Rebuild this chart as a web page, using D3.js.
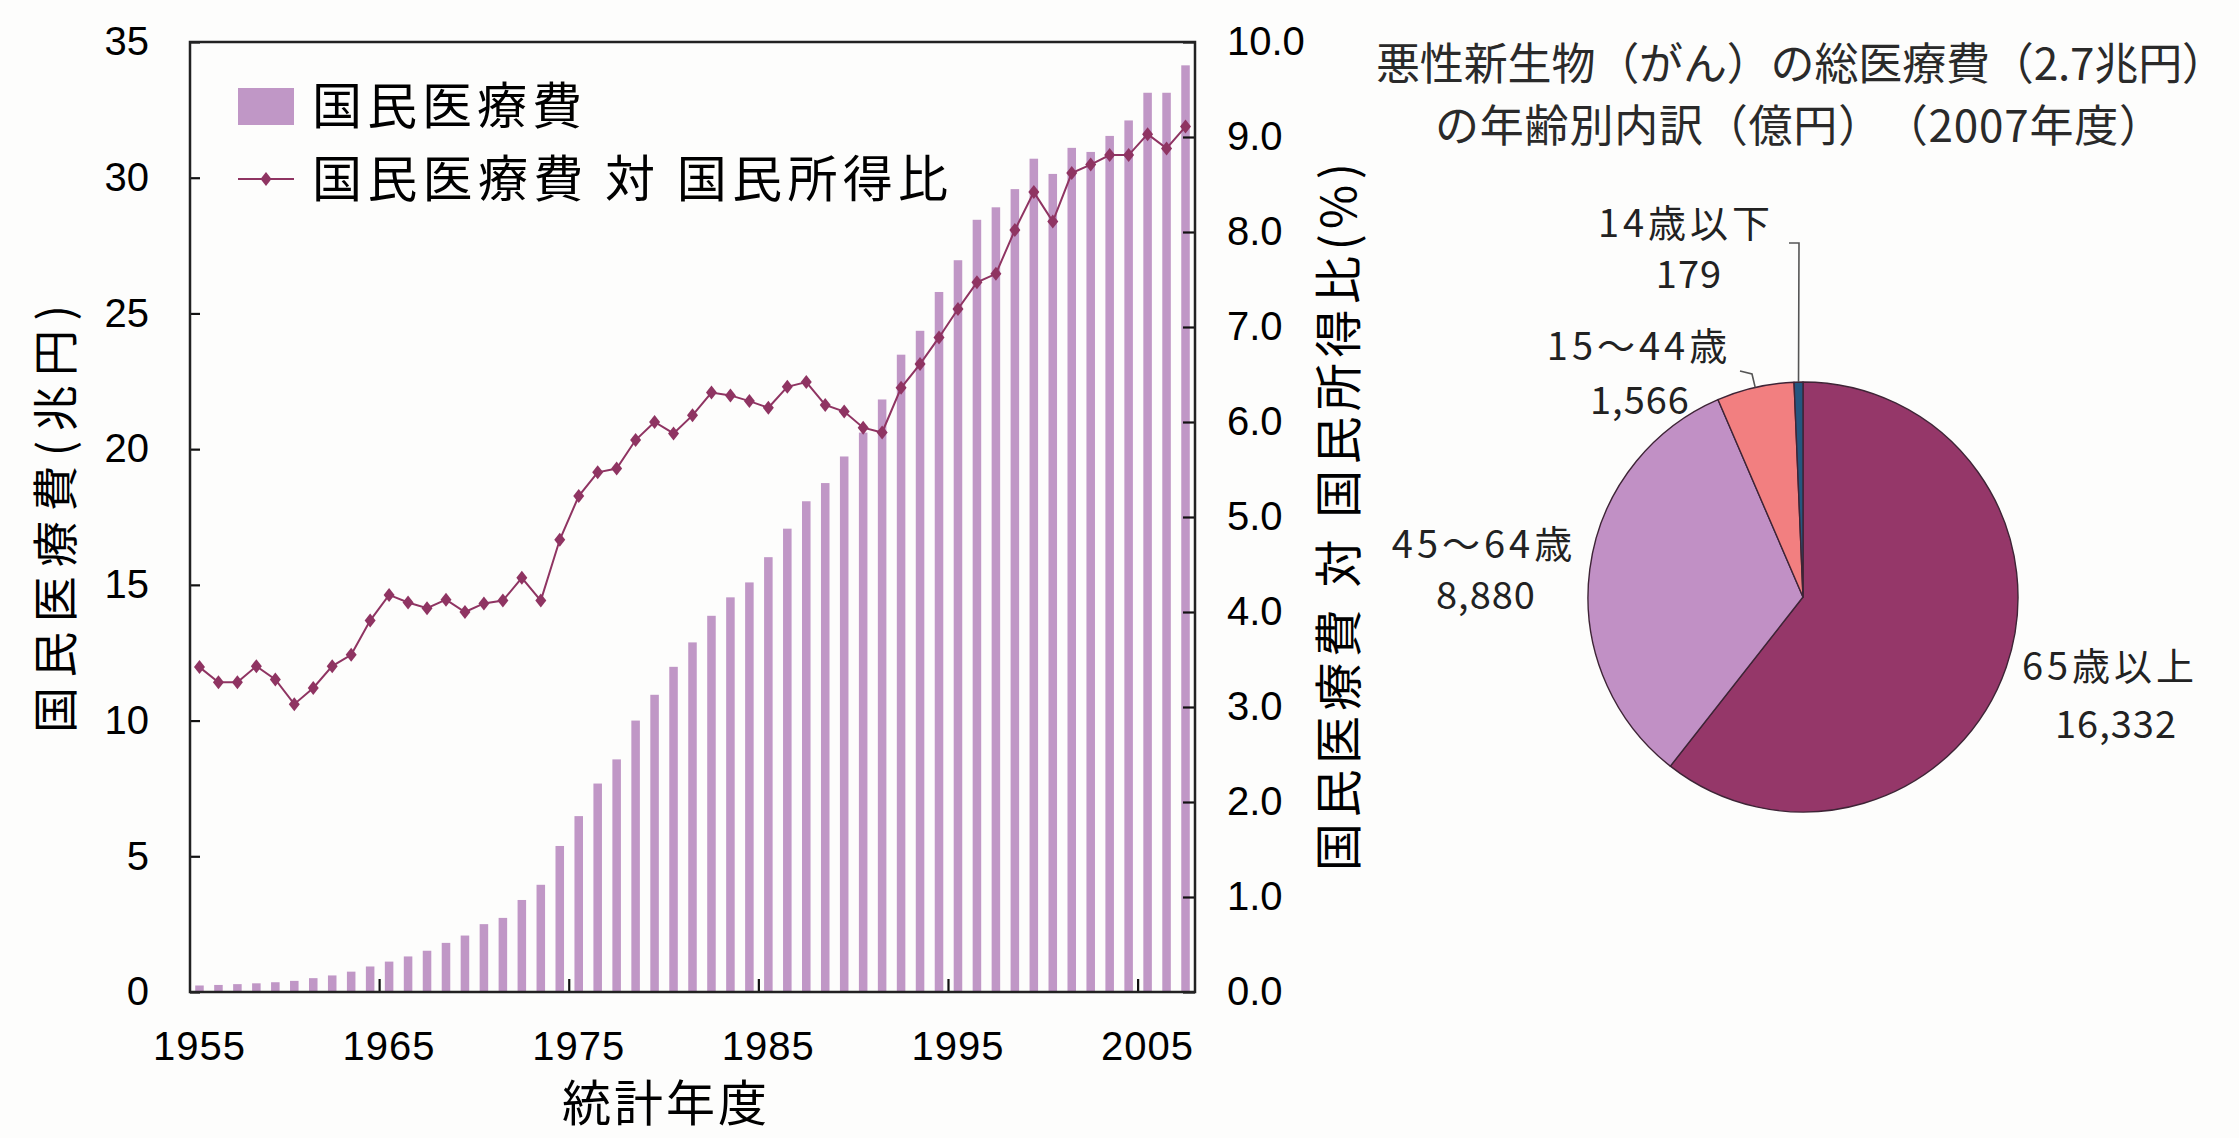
<!DOCTYPE html>
<html>
<head>
<meta charset="utf-8">
<script src="https://cdn.jsdelivr.net/npm/d3@7"></script>
<style>
  html, body { margin: 0; padding: 0; background: #fdfdfc; }
  svg { display: block; }
</style>
</head>
<body>
<svg id="chart" width="2239" height="1138"></svg>
<script>
// 統計年度
const years = [
  1955, 1956, 1957, 1958, 1959, 1960, 1961, 1962, 1963, 1964,
  1965, 1966, 1967, 1968, 1969, 1970, 1971, 1972, 1973, 1974,
  1975, 1976, 1977, 1978, 1979, 1980, 1981, 1982, 1983, 1984,
  1985, 1986, 1987, 1988, 1989, 1990, 1991, 1992, 1993, 1994,
  1995, 1996, 1997, 1998, 1999, 2000, 2001, 2002, 2003, 2004,
  2005, 2006, 2007
];
// 国民医療費 (兆円)
const expenditure = [
  0.24, 0.26, 0.29, 0.32, 0.36, 0.41, 0.51, 0.61, 0.75, 0.94,
  1.12, 1.31, 1.52, 1.81, 2.08, 2.50, 2.73, 3.39, 3.95, 5.38,
  6.48, 7.68, 8.57, 10.00, 10.95, 11.98, 12.88, 13.86, 14.54, 15.09,
  16.02, 17.07, 18.08, 18.75, 19.73, 20.61, 21.83, 23.48, 24.36, 25.79,
  26.96, 28.45, 28.91, 29.58, 30.70, 30.14, 31.10, 30.95, 31.54, 32.11,
  33.13, 33.13, 34.14
];
// 国民医療費 対 国民所得比 (%)
const incomeRatio = [
  3.42, 3.26, 3.26, 3.43, 3.29, 3.03, 3.20, 3.43, 3.55, 3.91,
  4.18, 4.10, 4.04, 4.13, 4.00, 4.09, 4.12, 4.36, 4.12, 4.76,
  5.22, 5.47, 5.51, 5.81, 6.00, 5.88, 6.07, 6.31, 6.28, 6.22,
  6.15, 6.37, 6.42, 6.18, 6.11, 5.94, 5.89, 6.36, 6.61, 6.89,
  7.19, 7.47, 7.56, 8.02, 8.42, 8.11, 8.62, 8.71, 8.81, 8.81,
  9.03, 8.88, 9.11
];
const leftTicks = [0, 5, 10, 15, 20, 25, 30, 35];
const rightTicks = [0, 1, 2, 3, 4, 5, 6, 7, 8, 9, 10];
const yearLabels = [1955, 1965, 1975, 1985, 1995, 2005];

// 悪性新生物(がん)の総医療費 年齢別内訳 (億円, 2007年度)
const ageGroups = ["65歳以上", "45～64歳", "15～44歳", "14歳以下"];
const cancerCost = [16332, 8880, 1566, 179];

// ---- layout & style ----
const JP = "'Noto Sans CJK JP', 'Noto Sans CJK SC', sans-serif";
const NUM = "'Liberation Sans', Arial, sans-serif";
const plot = { left: 190, right: 1195, top: 42, bottom: 992 };
const barColor = "#c097c6";
const lineColor = "#8f3462";
const sliceColors = ["#953769", "#c190c5", "#f27f80", "#245680"];
const pieCenter = [1803, 597];
const pieRadius = 215;
const labelPos = [
  { name: [2110, 667], value: [2116, 725] },
  { name: [1484, 545], value: [1486, 596] },
  { name: [1639, 347], value: [1640, 401] },
  { name: [1686, 224], value: [1689, 275] }
];
const leaders = { 2: [[1740, 371], [1752, 374]], 3: [[1789, 243], [1799, 243]] };

const svg = d3.select("#chart");
svg.append("rect").attr("width", 2239).attr("height", 1138).attr("fill", "#fdfdfc");

// ---- scales ----
const x = d3.scaleBand().domain(years)
  .range([plot.left, plot.right]).paddingInner(0.55).paddingOuter(0.275);
const y = d3.scaleLinear().domain([0, 35]).range([plot.bottom, plot.top]);
const y2 = d3.scaleLinear().domain([0, 10]).range([plot.bottom, plot.top]);

const series = years.map((yr, i) => ({ year: yr, cost: expenditure[i], ratio: incomeRatio[i] }));

// ---- bars ----
svg.append("g").selectAll("rect").data(series).join("rect")
  .attr("x", d => x(d.year))
  .attr("width", x.bandwidth())
  .attr("y", d => y(d.cost))
  .attr("height", d => y(0) - y(d.cost))
  .attr("fill", barColor);

// ---- axes ----
const gL = svg.append("g").attr("transform", `translate(${plot.left},0)`)
  .call(d3.axisLeft(y).tickValues(leftTicks).tickSizeInner(-10).tickSizeOuter(0).tickPadding(41));
gL.select(".domain").remove();
gL.attr("font-family", NUM).attr("font-size", 40);
gL.selectAll("line").attr("stroke", "#111").attr("stroke-width", 2.2);
gL.selectAll("text").attr("fill", "#000");

const gR = svg.append("g").attr("transform", `translate(${plot.right},0)`)
  .call(d3.axisRight(y2).tickValues(rightTicks).tickFormat(d3.format(".1f"))
    .tickSizeInner(-12).tickSizeOuter(0).tickPadding(32));
gR.select(".domain").remove();
gR.attr("font-family", NUM).attr("font-size", 40);
gR.selectAll("line").attr("stroke", "#111").attr("stroke-width", 2.2);
gR.selectAll("text").attr("fill", "#000");

const gB = svg.append("g").attr("transform", `translate(0,${plot.bottom})`)
  .call(d3.axisBottom(x).tickValues(yearLabels).tickSize(0).tickPadding(40));
gB.select(".domain").remove();
gB.attr("font-family", NUM).attr("font-size", 40);
gB.selectAll("text").attr("fill", "#000").attr("letter-spacing", 1);

// category-boundary ticks every ten years
const gap = (x.step() - x.bandwidth()) / 2;
svg.append("g").selectAll("line").data(yearLabels.slice(1)).join("line")
  .attr("x1", d => x(d) - gap).attr("x2", d => x(d) - gap)
  .attr("y1", plot.bottom).attr("y2", plot.bottom - 13)
  .attr("stroke", "#111").attr("stroke-width", 2.2);

// plot frame
svg.append("rect")
  .attr("x", plot.left).attr("y", plot.top)
  .attr("width", plot.right - plot.left).attr("height", plot.bottom - plot.top)
  .attr("fill", "none").attr("stroke", "#222").attr("stroke-width", 2.5);

// ---- ratio line ----
const cx = d => x(d.year) + x.bandwidth() / 2;
svg.append("path").datum(series)
  .attr("d", d3.line().x(cx).y(d => y2(d.ratio)))
  .attr("fill", "none").attr("stroke", lineColor).attr("stroke-width", 2);

const diamond = "M0,-7L5.5,0L0,7L-5.5,0Z";
svg.append("g").selectAll("path").data(series).join("path")
  .attr("d", diamond)
  .attr("transform", d => `translate(${cx(d)},${y2(d.ratio)})`)
  .attr("fill", lineColor);

// ---- legend ----
const leg = svg.append("g");
leg.append("rect").attr("x", 238).attr("y", 88).attr("width", 56).attr("height", 37).attr("fill", barColor);
leg.append("text").attr("x", 312).attr("y", 124)
  .attr("font-family", JP).attr("font-size", 50).attr("letter-spacing", 5).attr("fill", "#000")
  .text("国民医療費");
leg.append("line").attr("x1", 238).attr("x2", 294).attr("y1", 179).attr("y2", 179)
  .attr("stroke", lineColor).attr("stroke-width", 2);
leg.append("path").attr("d", diamond).attr("transform", "translate(266,179)").attr("fill", lineColor);
leg.append("text").attr("x", 312).attr("y", 197)
  .attr("font-family", JP).attr("font-size", 50).attr("fill", "#000")
  .attr("textLength", 636).attr("lengthAdjust", "spacing")
  .text("国民医療費 対 国民所得比");

// ---- axis titles ----
svg.append("text")
  .attr("transform", "translate(55,519) rotate(-90)")
  .attr("text-anchor", "middle").attr("dy", "0.36em")
  .attr("font-family", JP).attr("font-size", 46).attr("fill", "#000")
  .attr("textLength", 428).attr("lengthAdjust", "spacing")
  .text("国民医療費(兆円)");

svg.append("text")
  .attr("transform", "translate(1339,517) rotate(-90)")
  .attr("text-anchor", "middle").attr("dy", "0.36em")
  .attr("font-family", JP).attr("font-size", 48).attr("fill", "#000")
  .attr("textLength", 708).attr("lengthAdjust", "spacing")
  .text("国民医療費 対 国民所得比(%)");

svg.append("text")
  .attr("x", 666).attr("y", 1121)
  .attr("text-anchor", "middle")
  .attr("font-family", JP).attr("font-size", 49).attr("letter-spacing", 3).attr("fill", "#000")
  .text("統計年度");

// ---- pie: 年齢別内訳 ----
const titleG = svg.append("g").attr("font-family", JP).attr("font-size", 44).attr("fill", "#2a2a2a")
  .attr("text-anchor", "middle");
titleG.append("text").attr("x", 1801).attr("y", 80)
  .attr("textLength", 850).attr("lengthAdjust", "spacing")
  .text("悪性新生物（がん）の総医療費（2.7兆円）");
titleG.append("text").attr("x", 1799).attr("y", 142)
  .attr("textLength", 728).attr("lengthAdjust", "spacing")
  .text("の年齢別内訳（億円）　（2007年度）");

const pieData = d3.pie().sort(null).value(d => d.value)(
  ageGroups.map((g, i) => ({ group: g, value: cancerCost[i], idx: i }))
);
const arc = d3.arc().innerRadius(0).outerRadius(pieRadius);
const pieG = svg.append("g").attr("transform", `translate(${pieCenter[0]},${pieCenter[1]})`);
pieG.selectAll("path").data(pieData).join("path")
  .attr("d", arc)
  .attr("fill", (d, i) => sliceColors[i])
  .attr("stroke", "#3e2436").attr("stroke-width", 1.4).attr("stroke-linejoin", "round");

// leader lines for the thin slices
const rimPoint = a => {
  const m = (a.startAngle + a.endAngle) / 2;
  return [pieCenter[0] + pieRadius * Math.sin(m), pieCenter[1] - pieRadius * Math.cos(m)];
};
pieData.forEach((a, i) => {
  if (!leaders[i]) return;
  const pts = leaders[i].concat([rimPoint(a)]);
  svg.append("path").attr("d", d3.line()(pts))
    .attr("fill", "none").attr("stroke", "#555").attr("stroke-width", 1.6);
});

const fmt = d3.format(",");
const lblG = svg.append("g").attr("font-family", JP).attr("font-size", 38).attr("fill", "#222")
  .attr("text-anchor", "middle");
pieData.forEach((a, i) => {
  const p = labelPos[i];
  lblG.append("text").attr("x", p.name[0]).attr("y", p.name[1] + 13)
    .attr("letter-spacing", 4).text(a.data.group);
  lblG.append("text").attr("x", p.value[0]).attr("y", p.value[1] + 13)
    .attr("letter-spacing", 1).text(fmt(a.data.value));
});
</script>
</body>
</html>
